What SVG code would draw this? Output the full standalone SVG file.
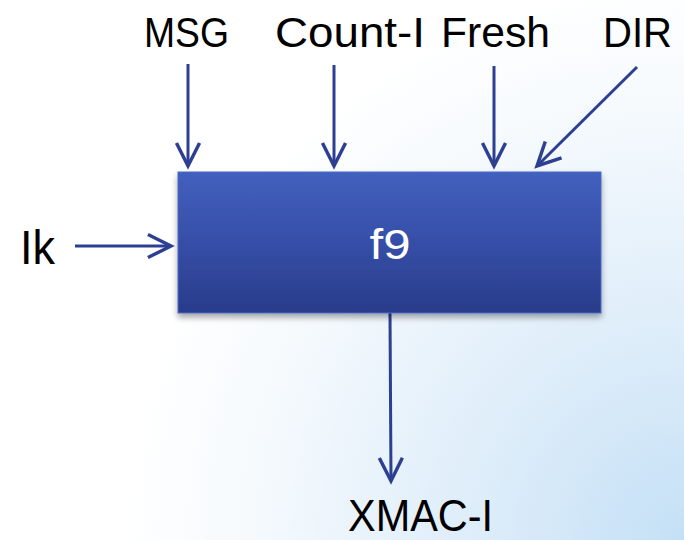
<svg xmlns="http://www.w3.org/2000/svg" width="684" height="540" viewBox="0 0 684 540">
<defs>
<radialGradient id="bg" cx="684" cy="540" r="560" gradientUnits="userSpaceOnUse">
<stop offset="0" stop-color="#c4e0f6"/>
<stop offset="0.35" stop-color="#dcecf9"/>
<stop offset="0.75" stop-color="#f4f9fd"/>
<stop offset="1" stop-color="#ffffff"/>
</radialGradient>
<linearGradient id="box" x1="0" y1="0" x2="0" y2="1">
<stop offset="0" stop-color="#4260be"/>
<stop offset="0.5" stop-color="#364fa8"/>
<stop offset="1" stop-color="#293c8a"/>
</linearGradient>
<filter id="sh" x="-10%" y="-10%" width="120%" height="130%">
<feGaussianBlur in="SourceAlpha" stdDeviation="3"/>
<feOffset dx="0" dy="4"/>
<feComponentTransfer><feFuncA type="linear" slope="0.35"/></feComponentTransfer>
<feMerge><feMergeNode/><feMergeNode in="SourceGraphic"/></feMerge>
</filter>
<marker id="ah" markerUnits="userSpaceOnUse" markerWidth="30" markerHeight="30" viewBox="-22 -12 26 24" refX="0" refY="0" orient="auto">
<path d="M-20,-10 L0,0 L-20,10" fill="none" stroke="#2c3f91" stroke-width="3"/>
</marker>
<style>
.lbl{font-family:"Liberation Sans",Arial,sans-serif;fill:#000;font-size:42px}
.c{stroke:#2c3f91;stroke-width:3;fill:none;marker-end:url(#ah)}
</style>
</defs>
<rect width="684" height="540" fill="url(#bg)"/>
<g id="connectors">
<line class="c" x1="188" y1="64" x2="188" y2="166"/>
<line class="c" x1="334" y1="65" x2="334" y2="166"/>
<line class="c" x1="494" y1="66" x2="494" y2="166"/>
<line class="c" x1="637" y1="67" x2="537" y2="166"/>
<line class="c" x1="75" y1="246" x2="171" y2="246"/>
<line class="c" x1="390" y1="313" x2="391" y2="481"/>
</g>
<g id="f9">
<rect x="178" y="172" width="423" height="141" fill="url(#box)" stroke="#4a68c8" stroke-width="1" filter="url(#sh)"/>
<text x="390" y="259" text-anchor="middle" font-family="Liberation Sans, Arial, sans-serif" font-size="42" fill="#ffffff" textLength="41" lengthAdjust="spacingAndGlyphs">f9</text>
</g>
<g id="MSG"><text class="lbl" x="144" y="47" textLength="85" lengthAdjust="spacingAndGlyphs">MSG</text></g>
<g id="Count-I"><text class="lbl" x="275" y="47" textLength="150" lengthAdjust="spacingAndGlyphs">Count-I</text></g>
<g id="Fresh"><text class="lbl" x="441" y="47" textLength="109" lengthAdjust="spacingAndGlyphs">Fresh</text></g>
<g id="DIR"><text class="lbl" x="603" y="47" textLength="69" lengthAdjust="spacingAndGlyphs">DIR</text></g>
<g id="Ik"><text class="lbl" x="20" y="264" style="font-size:48px" textLength="35" lengthAdjust="spacingAndGlyphs">Ik</text></g>
<g id="XMAC-I"><text class="lbl" x="348" y="531" style="font-size:44px" textLength="145" lengthAdjust="spacingAndGlyphs">XMAC-I</text></g>
</svg>
